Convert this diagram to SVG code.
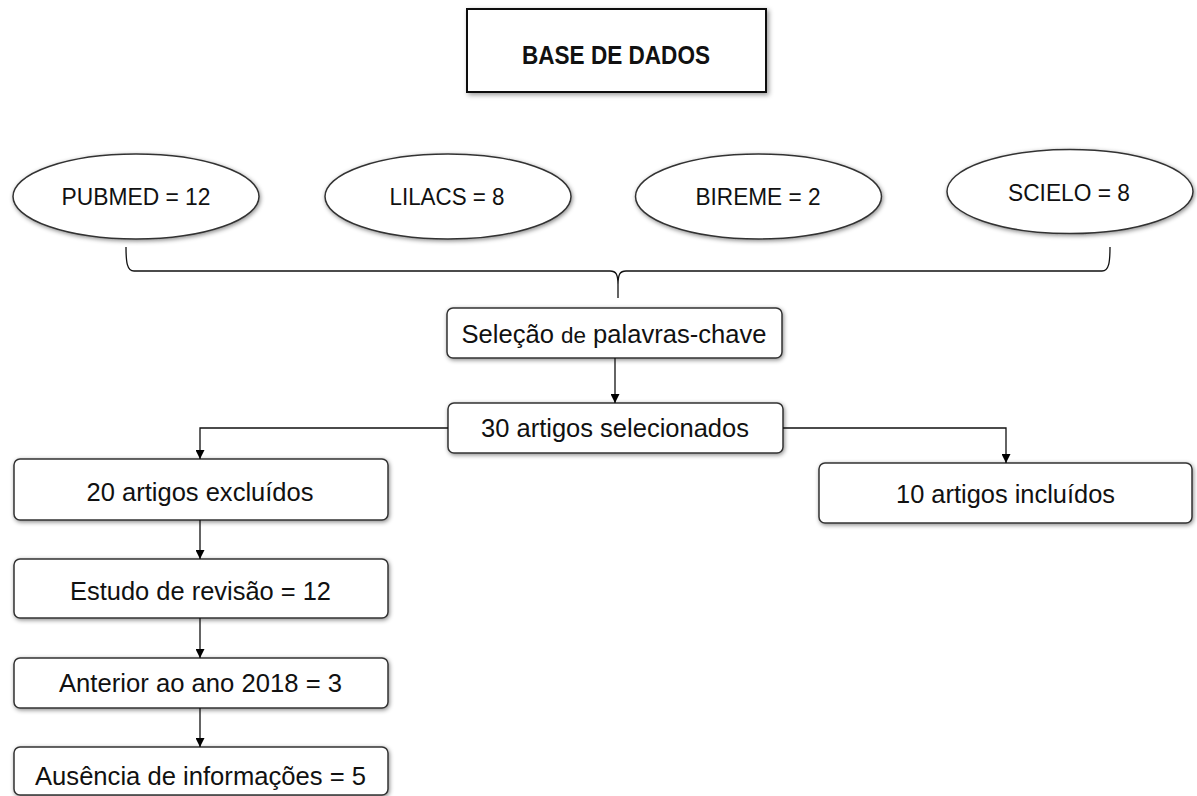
<svg xmlns="http://www.w3.org/2000/svg" width="1197" height="796" viewBox="0 0 1197 796">
<defs>
<filter id="sh" x="-10%" y="-20%" width="120%" height="150%">
<feDropShadow dx="1" dy="1.5" stdDeviation="2" flood-color="#000" flood-opacity="0.45"/>
</filter>
<filter id="sh2" x="-10%" y="-20%" width="120%" height="150%">
<feDropShadow dx="2" dy="2" stdDeviation="2.5" flood-color="#000" flood-opacity="0.4"/>
</filter>
<marker id="ah" viewBox="0 0 10 10" refX="10" refY="5" markerWidth="9" markerHeight="9" markerUnits="userSpaceOnUse" orient="auto">
<path d="M0,0 L10,5 L0,10 Z" fill="#000"/>
</marker>
</defs>
<style>
.box{fill:#fff;stroke:#333;stroke-width:1.5;filter:url(#sh)}
.ell{fill:#fff;stroke:#333;stroke-width:1.5;filter:url(#sh)}
.t{font-family:"Liberation Sans",Arial,sans-serif;font-size:25px;fill:#111;text-anchor:middle}
.te{font-family:"Liberation Sans",Arial,sans-serif;font-size:24px;fill:#111;text-anchor:middle}
.tb{font-family:"Liberation Sans",Arial,sans-serif;font-size:25px;font-weight:bold;fill:#111;text-anchor:middle}
.c{fill:none;stroke:#111;stroke-width:1.3}
</style>
<rect width="1197" height="796" fill="#fff"/>

<g id="base">
<rect x="467" y="9" width="299" height="83" fill="#fff" stroke="#111" stroke-width="2" filter="url(#sh2)"/>
<text class="tb" x="616" y="64" textLength="188" lengthAdjust="spacingAndGlyphs">BASE DE DADOS</text>
</g>

<g id="pubmed">
<ellipse class="ell" cx="136" cy="196.5" rx="123" ry="42.5"/>
<text class="te" x="136" y="205" textLength="149" lengthAdjust="spacingAndGlyphs">PUBMED = 12</text>
</g>
<g id="lilacs">
<ellipse class="ell" cx="448" cy="196.5" rx="123" ry="42.5"/>
<text class="te" x="447" y="205" textLength="115" lengthAdjust="spacingAndGlyphs">LILACS = 8</text>
</g>
<g id="bireme">
<ellipse class="ell" cx="758.5" cy="196.5" rx="123" ry="42.5"/>
<text class="te" x="758" y="205" textLength="125" lengthAdjust="spacingAndGlyphs">BIREME = 2</text>
</g>
<g id="scielo">
<ellipse class="ell" cx="1070" cy="191.5" rx="123" ry="42"/>
<text class="te" x="1069" y="201" textLength="122" lengthAdjust="spacingAndGlyphs">SCIELO = 8</text>
</g>

<g id="selecao">
<rect class="box" x="447" y="308" width="335" height="50" rx="6"/>
<text class="t" x="614" y="343" textLength="305" lengthAdjust="spacingAndGlyphs">Seleção <tspan font-size="22">de</tspan> palavras-chave</text>
</g>
<g id="selecionados">
<rect class="box" x="448" y="403" width="335" height="50" rx="6"/>
<text class="t" x="615" y="437" textLength="268" lengthAdjust="spacingAndGlyphs">30 artigos selecionados</text>
</g>
<g id="excluidos">
<rect class="box" x="14" y="459" width="374" height="61" rx="6"/>
<text class="t" x="200" y="501" textLength="227" lengthAdjust="spacingAndGlyphs">20 artigos excluídos</text>
</g>
<g id="revisao">
<rect class="box" x="14" y="559" width="374" height="59" rx="6"/>
<text class="t" x="200.5" y="600" textLength="261" lengthAdjust="spacingAndGlyphs">Estudo de revisão = 12</text>
</g>
<g id="anterior">
<rect class="box" x="14" y="658" width="374" height="50" rx="6"/>
<text class="t" x="200.5" y="692" textLength="283" lengthAdjust="spacingAndGlyphs">Anterior ao ano 2018 = 3</text>
</g>
<g id="ausencia">
<rect class="box" x="14" y="747" width="374" height="48" rx="6"/>
<text class="t" x="200.5" y="785" textLength="331" lengthAdjust="spacingAndGlyphs">Ausência de informações = 5</text>
</g>
<g id="incluidos">
<rect class="box" x="819" y="463" width="373" height="60" rx="6"/>
<text class="t" x="1005.5" y="503" textLength="219" lengthAdjust="spacingAndGlyphs">10 artigos incluídos</text>
</g>

<g id="connectors">
<path class="c" d="M126,247 C126,262 127,271 134,271 L610,271 C616,271 618,274 618,285 L618,298 M618,285 C618,274 620,271 626,271 L1102,271 C1109,271 1110,262 1110,247"/>
<path class="c" d="M615,358 L615,403" marker-end="url(#ah)"/>
<path class="c" d="M448,428 L200,428 L200,459" marker-end="url(#ah)"/>
<path class="c" d="M783,428 L1006,428 L1006,463" marker-end="url(#ah)"/>
<path class="c" d="M200,520 L200,559" marker-end="url(#ah)"/>
<path class="c" d="M200,618 L200,658" marker-end="url(#ah)"/>
<path class="c" d="M200,708 L200,747" marker-end="url(#ah)"/>
</g>
</svg>
